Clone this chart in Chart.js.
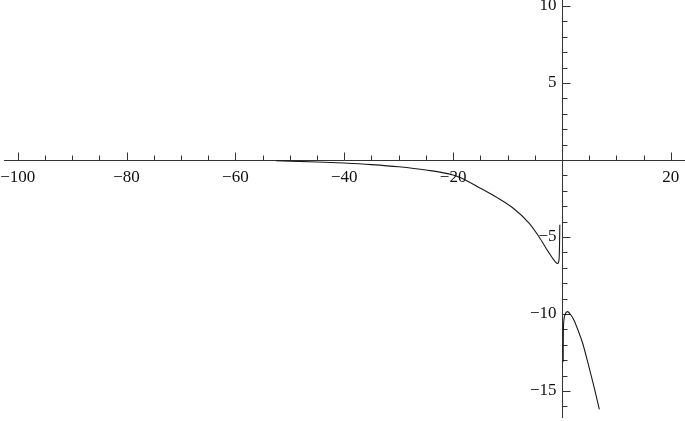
<!DOCTYPE html>
<html>
<head>
<meta charset="utf-8">
<script src="https://cdn.jsdelivr.net/npm/chart.js@4.4.1/dist/chart.umd.min.js"></script>
<style>
    html, body { margin: 0; padding: 0; background: #fff; }
    #wrap { width: 685px; height: 421px; }
</style>
</head>
<body>
<div id="wrap"><canvas id="plot" width="685" height="421"></canvas></div>
<script>
// left branch (x < 0)
const leftX = [-52.6, -45, -40, -35, -30, -25, -20, -18.6, -14.9, -12.1, -9, -6.05, -4.2, -2.5, -1.25, -0.8, -0.55, -0.45, -0.4];
const leftY = [-0.05, -0.13, -0.2, -0.3, -0.44, -0.65, -0.97, -1.15, -1.85, -2.4, -3.12, -4.1, -5.0, -5.97, -6.6, -6.72, -6.5, -5.5, -4.2];
// right branch (x > 0)
const rightX = [0.22, 0.24, 0.35, 0.6, 1.0, 1.5, 2.2, 3.0, 3.8, 5.0, 6.0, 6.86];
const rightY = [-13.1, -11.5, -10.4, -10.0, -9.85, -10.0, -10.4, -11.1, -11.9, -13.5, -14.9, -16.2];

const xMajor = [-100, -80, -60, -40, -20, 20];
const yMajor = [10, 5, -5, -10, -15];

function toPoints(xs, ys) {
    return xs.map((x, i) => ({ x: x, y: ys[i] }));
}

// Mathematica-style axes crossing at the origin
const originAxes = {
    id: 'originAxes',
    beforeDatasetsDraw(chart) {
        const ctx = chart.ctx;
        const xs = chart.scales.x;
        const ys = chart.scales.y;
        const area = chart.chartArea;
        const x0 = Math.round(xs.getPixelForValue(0)) + 0.5;
        const y0 = Math.round(ys.getPixelForValue(0)) + 0.5;

        ctx.save();
        ctx.strokeStyle = '#333';
        ctx.lineWidth = 1;
        ctx.beginPath();
        ctx.moveTo(area.left + 4, y0);
        ctx.lineTo(area.right, y0);
        ctx.moveTo(x0, area.top);
        ctx.lineTo(x0, area.bottom - 3);
        ctx.stroke();

        // x ticks, every 5, pointing up
        ctx.beginPath();
        for (let v = -100; v <= 20; v += 5) {
            if (v === 0) continue;
            const px = Math.round(xs.getPixelForValue(v)) + 0.5;
            const len = v % 20 === 0 ? 8 : 5;
            ctx.moveTo(px, y0);
            ctx.lineTo(px, y0 - len);
        }
        // y ticks, every 1, pointing right
        for (let v = -16; v <= 10; v += 1) {
            if (v === 0) continue;
            const py = Math.round(ys.getPixelForValue(v)) + 0.5;
            const len = v % 5 === 0 ? 8 : 5;
            ctx.moveTo(x0, py);
            ctx.lineTo(x0 + len, py);
        }
        ctx.stroke();

        ctx.fillStyle = '#111';
        ctx.font = '17px "Liberation Serif", "Times New Roman", serif';
        ctx.textAlign = 'center';
        ctx.textBaseline = 'middle';
        xMajor.forEach(v => {
            const label = (v < 0 ? '\u2212' : '') + Math.abs(v);
            ctx.fillText(label, xs.getPixelForValue(v), y0 + 17);
        });
        ctx.textAlign = 'right';
        yMajor.forEach(v => {
            const label = (v < 0 ? '\u2212' : '') + Math.abs(v);
            ctx.fillText(label, x0 - 6, ys.getPixelForValue(v));
        });
        ctx.restore();
    }
};

const plotCtx = document.getElementById('plot').getContext('2d');
const plotChart = new Chart(plotCtx, {
    type: 'scatter',
    data: {
        datasets: [{
            data: toPoints(leftX, leftY),
            showLine: true,
            borderColor: '#1a1a1a',
            borderWidth: 1.1,
            pointRadius: 0,
            cubicInterpolationMode: 'monotone'
        }, {
            data: toPoints(rightX, rightY),
            showLine: true,
            borderColor: '#1a1a1a',
            borderWidth: 1.1,
            pointRadius: 0,
            cubicInterpolationMode: 'monotone'
        }]
    },
    options: {
        responsive: false,
        animation: false,
        layout: { padding: 0 },
        scales: {
            x: { type: 'linear', min: -103.25, max: 22.6, display: false },
            y: { type: 'linear', min: -16.95, max: 10.39, display: false }
        },
        plugins: {
            legend: { display: false },
            tooltip: { enabled: false }
        }
    },
    plugins: [originAxes]
});
</script>
</body>
</html>
